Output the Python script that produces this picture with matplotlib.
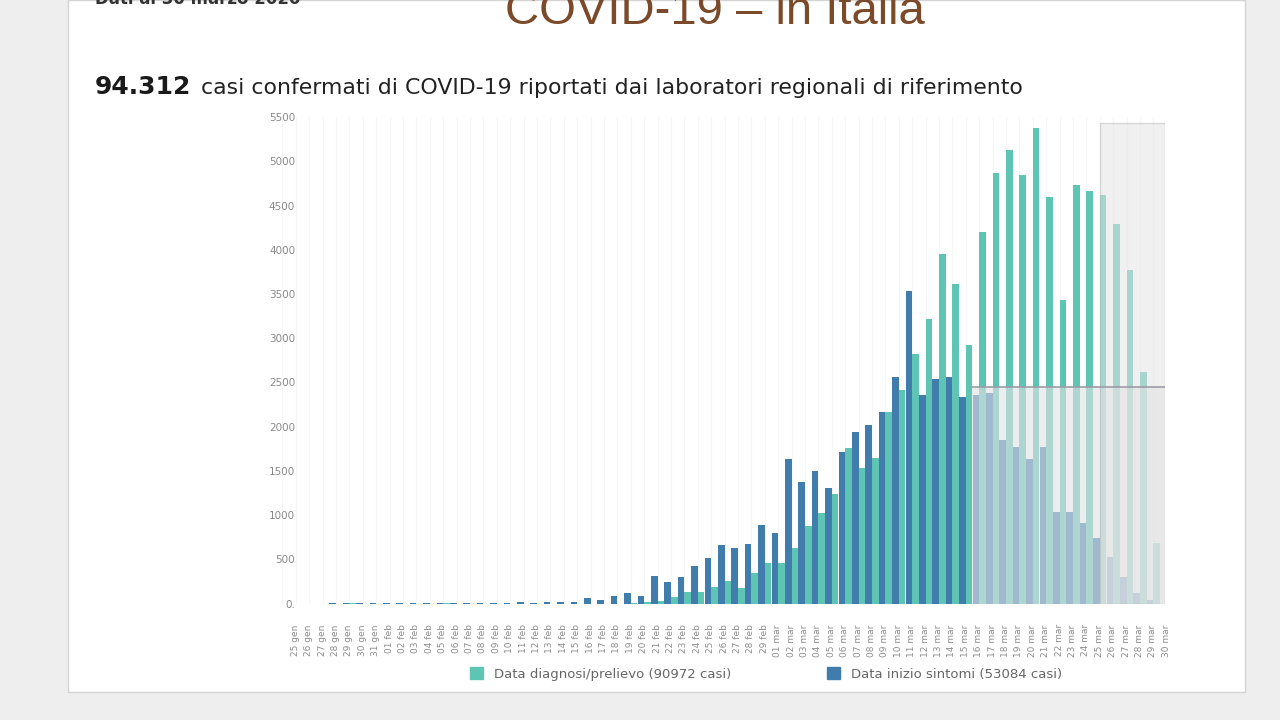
import matplotlib.pyplot as plt
import numpy as np
from matplotlib.patches import Patch, Rectangle
from matplotlib.transforms import ScaledTranslation

# daily cases, 25 gen -> 30 mar
dates = ([f"{d:02d} gen" for d in range(25, 32)]
         + [f"{d:02d} feb" for d in range(1, 30)]
         + [f"{d:02d} mar" for d in range(1, 31)])

onset = [0, 0, 0, 0, 1, 1, 2, 3, 3, 9, 4, 4, 4, 9, 3, 2, 3, 5, 18, 6,
         14, 16, 22, 60, 38, 85, 120, 90, 310, 240, 305, 420, 515, 665, 630, 675,
         890, 795, 1635, 1380, 1495, 1305, 1710, 1945, 2020, 2170, 2560, 3530,
         2360, 2545, 2565, 2335, 2360, 2380, 1850, 1775, 1630, 1775, 1040, 1040,
         910, 740, 530, 305, 115, 40]

diagnosis = [0, 0, 0, 0, 0, 2, 0, 0, 0, 0, 0, 0, 1, 0, 0, 0, 0, 0, 0, 0,
             0, 0, 0, 0, 0, 0, 3, 15, 25, 77, 134, 134, 190, 258, 172, 345,
             455, 455, 625, 877, 1028, 1239, 1756, 1530, 1643, 2171, 2416, 2828,
             3216, 3955, 3616, 2922, 4197, 4869, 5125, 4842, 5378, 4597, 3435, 4737,
             4661, 4623, 4295, 3774, 2624, 681]

yticks = [0, 500, 1000, 1500, 2000, 2500, 3000, 3500, 4000, 4500, 5000, 5500]
ytick_labels = ["0."] + [str(v) for v in yticks[1:]]

legend_labels = ["Data diagnosi/prelievo (90972 casi)",
                 "Data inizio sintomi (53084 casi)"]

# grey boxes marking the days with data still being consolidated
onset_incomplete_from = "17 mar"
onset_box_top = 2450
diag_incomplete_from = "26 mar"
diag_box_top = 5440

TEAL = "#5ec5b4"
BLUE = "#407cac"

fig = plt.figure(figsize=(12.8, 7.2), dpi=100)
fig.patch.set_facecolor("#eeeeee")

# slide background
fig.patches.append(Rectangle((68 / 1280, 28 / 720), (1245 - 68) / 1280, 692 / 720,
                             transform=fig.transFigure, facecolor="white",
                             edgecolor="#d4d4d4", lw=1, zorder=-10))

fig.text(95 / 1280, 1 - 4 / 720, "Dati al 30 marzo 2020", fontsize=12,
         fontweight="bold", color="#333333", va="baseline")
fig.text(715 / 1280, 1 - 24 / 720, "COVID-19 \u2013 in Italia", ha="center",
         va="baseline", fontsize=34, color="#7b4a2a", family="Liberation Sans")
fig.text(95 / 1280, 1 - 94 / 720, "94.312", fontsize=18, fontweight="bold",
         color="#1a1a1a", va="baseline")
fig.text(201 / 1280, 1 - 94 / 720,
         "casi confermati di COVID-19 riportati dai laboratori regionali di riferimento",
         fontsize=15.8, color="#222222", va="baseline")

ax = fig.add_axes([0.2143, 0.1618, 0.6959, 0.6753])
x = np.arange(len(dates))
xmax = 65.87

ax.bar(x - 0.245, onset, width=0.49, color=BLUE, zorder=2)
ax.bar(x + 0.245, diagnosis, width=0.49, color=TEAL, zorder=2)

start = dates.index(onset_incomplete_from) - 0.5
ax.add_patch(Rectangle((start, 0), xmax - start, onset_box_top,
                       facecolor="#e2e2e6", alpha=0.6, edgecolor="none", zorder=3))
ax.plot([start, xmax], [onset_box_top, onset_box_top], color="#9c9ca6", lw=1.2, zorder=4)

start = dates.index(diag_incomplete_from)
ax.add_patch(Rectangle((start, 0), xmax - start, diag_box_top,
                       facecolor="#e4e4e4", alpha=0.55, edgecolor="#bdbdbd",
                       lw=1, zorder=3))

ax.set_xlim(-0.6, xmax)
ax.set_ylim(0, 5500)
ax.set_xticks(x)
ax.set_xticklabels(dates, rotation=90, fontsize=6.5, color="#8c8c8c")
ax.set_yticks(yticks)
ax.set_yticklabels(ytick_labels, fontsize=7.5, color="#8a8a8a")
ax.tick_params(axis="x", length=0, pad=15)
ax.tick_params(axis="y", length=0, pad=-15)
for lbl in ax.get_xticklabels():
    lbl.set_transform(lbl.get_transform() + ScaledTranslation(0.13, 0, fig.dpi_scale_trans))
for side in ["top", "right", "left", "bottom"]:
    ax.spines[side].set_visible(False)
ax.grid(axis="x", color="#f6f6f6", lw=0.8)
ax.set_axisbelow(True)
ax.set_facecolor("none")

handles = [Patch(color=TEAL, label=legend_labels[0]),
           Patch(color=BLUE, label=legend_labels[1])]
fig.legend(handles=handles, loc="center", bbox_to_anchor=(766 / 1280, 1 - 674 / 720),
           ncol=2, frameon=False, fontsize=9.5, handlelength=1.0, handleheight=1.0,
           columnspacing=7.3, labelcolor="#666666")

fig.savefig("out.png", dpi=100, facecolor=fig.get_facecolor())
